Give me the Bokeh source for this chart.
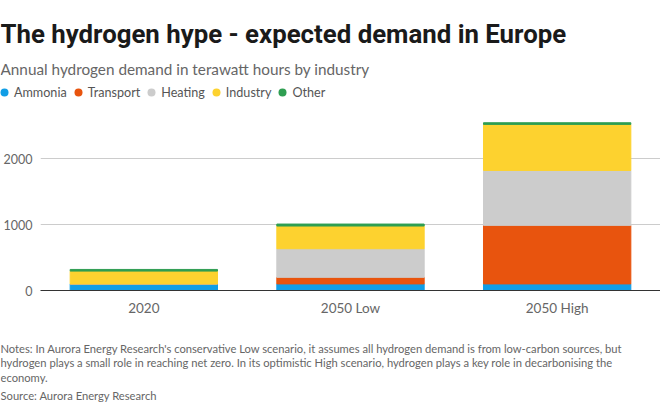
from bokeh.plotting import figure
from bokeh.layouts import column
from bokeh.models import ColumnDataSource, FactorRange, Range1d, Legend, LegendItem
from bokeh.core.properties import value
from bokeh.embed import file_html
from bokeh.resources import INLINE

# ---- data -------------------------------------------------------------
categories = ["2020", "2050 Low", "2050 High"]
series = ["Ammonia", "Transport", "Heating", "Industry", "Other"]
ammonia = [100, 100, 100]
transport = [0, 100, 890]
heating = [0, 435, 835]
industry = [195, 345, 700]
other = [25, 30, 25]
colors = ["#119ee6", "#e8540e", "#cccccc", "#fdd22f", "#2f9e52"]
y_ticks = [0, 1000, 2000]

title_text = "The hydrogen hype - expected demand in Europe"
subtitle_text = "Annual hydrogen demand in terawatt hours by industry"
note_lines = [
    "Notes: In Aurora Energy Research's conservative Low scenario, it assumes all hydrogen demand is from low-carbon sources, but",
    "hydrogen plays a small role in reaching net zero. In its optimistic High scenario, hydrogen plays a key role in decarbonising the",
    "economy.",
    "Source: Aurora Energy Research",
]

# ---- layout constants -------------------------------------------------
W, H = 660, 409
ML = 37
FRAME_H = 175
MB = 45
H_HEAD = 115
H_MAIN = FRAME_H + MB
H_FOOT = H - H_HEAD - H_MAIN
FONT = "Lato"
TITLE_FONT = "Roboto"


def text_panel(h):
    f = figure(width=W, height=h, x_range=Range1d(0, W), y_range=Range1d(h, 0),
               x_axis_type=None, y_axis_type=None, output_backend="svg",
               toolbar_location=None, title=None, min_border=0,
               frame_align=False)
    f.min_border_left = f.min_border_right = f.min_border_top = f.min_border_bottom = 0
    f.outline_line_color = None
    f.grid.visible = False
    return f


# ---- header: title, subtitle, legend ------------------------------------
head = text_panel(H_HEAD)
head.text(x=[0], y=[33], text=[title_text], text_font=value(TITLE_FONT),
          text_font_size="25.8px", text_font_style="bold", text_color="#1a1a1a",
          text_baseline="alphabetic", text_align="left")
head.text(x=[0], y=[68], text=[subtitle_text], text_font=value(FONT),
          text_font_size="15.3px", text_color="#666666",
          text_baseline="alphabetic", text_align="left")

items = []
for name, c in zip(series, colors):
    # a single off-screen point so the legend glyph has something to draw
    r = head.scatter(x=[-50], y=[-50], marker="circle", size=8, fill_color=c, line_color=None)
    items.append(LegendItem(label=name, renderers=[r]))
legend = Legend(items=items, orientation="horizontal", location=(-6, 13),
                glyph_width=20, glyph_height=20, label_standoff=0, spacing=1,
                padding=0, margin=0, border_line_color=None, background_fill_alpha=0,
                label_text_font=FONT, label_text_font_size="12.6px",
                label_text_color="#555555", label_height=20)
head.add_layout(legend)

# ---- main chart ---------------------------------------------------------
source = ColumnDataSource(dict(cat=categories, Ammonia=ammonia, Transport=transport,
                               Heating=heating, Industry=industry, Other=other))

p = figure(x_range=FactorRange(factors=categories, range_padding=0),
           y_range=Range1d(0, 2660), width=W, height=H_MAIN,
           output_backend="svg", toolbar_location=None, title=None,
           min_border_left=ML, min_border_right=0, min_border_top=0,
           min_border_bottom=MB, frame_align=False)

p.vbar_stack(series, x="cat", width=0.713, color=colors, source=source)

p.outline_line_color = None
p.xgrid.visible = False
p.ygrid.grid_line_color = "#cccccc"
p.ygrid.grid_line_width = 1

p.yaxis.ticker = y_ticks
p.yaxis.axis_line_color = None
p.yaxis.major_tick_line_color = None
p.yaxis.minor_tick_line_color = None
p.yaxis.major_tick_out = 0
p.yaxis.major_tick_in = 0
p.yaxis.major_label_standoff = 8
p.yaxis.major_label_text_font = FONT
p.yaxis.major_label_text_font_size = "12.5px"
p.yaxis.major_label_text_color = "#666666"

p.xaxis.axis_line_color = "#333333"
p.xaxis.axis_line_width = 1.2
p.xaxis.major_tick_line_color = None
p.xaxis.major_tick_out = 0
p.xaxis.major_tick_in = 0
p.xaxis.major_label_standoff = 9
p.xaxis.major_label_text_font = FONT
p.xaxis.major_label_text_font_size = "13.5px"
p.xaxis.major_label_text_color = "#666666"

# ---- footer: notes and source ---------------------------------------------
foot = text_panel(H_FOOT)
foot.text(x=[0, 0, 0, 0], y=[12.5, 27, 41.5, 59.5], text=note_lines,
          text_font=value(FONT), text_font_size="11.2px", text_color="#666666",
          text_baseline="alphabetic", text_align="left")

layout = column(head, p, foot, spacing=0)
open("out.html", "w").write(file_html(layout, INLINE))
